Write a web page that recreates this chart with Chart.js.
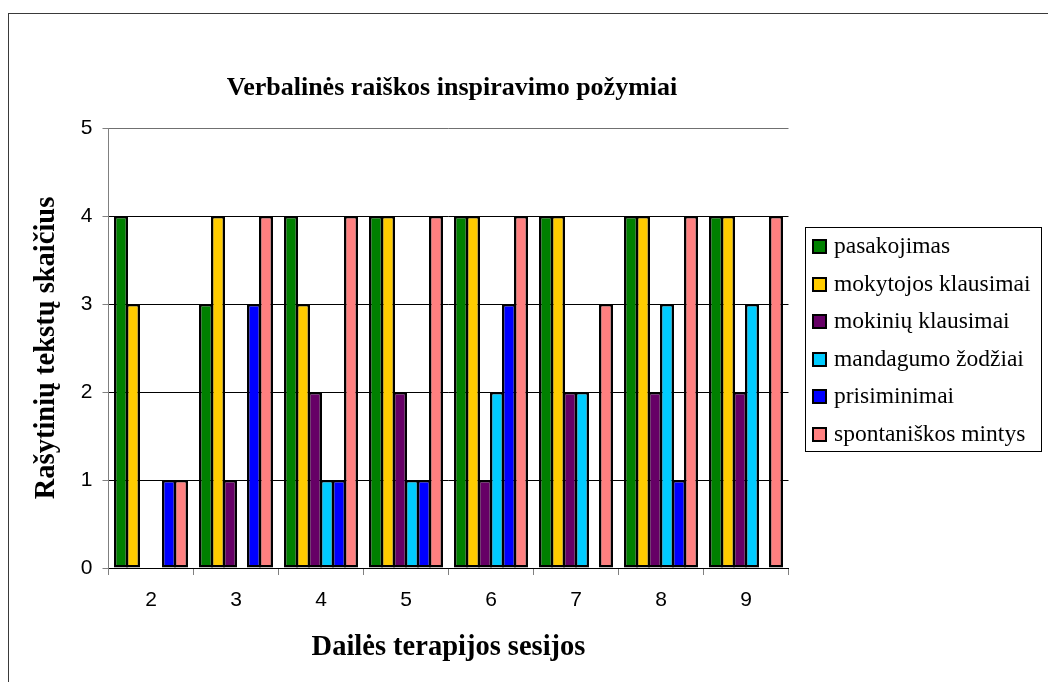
<!DOCTYPE html>
<html>
<head>
<meta charset="utf-8">
<script src="https://cdn.jsdelivr.net/npm/chart.js@4.4.1/dist/chart.umd.min.js"></script>
<style>
  html, body { margin: 0; padding: 0; background: #fff; overflow: hidden; }
  #frame { position: absolute; left: 8px; top: 13px; width: 2000px; height: 2000px;
           border-left: 1.5px solid #3a3a3a; border-top: 1.5px solid #3a3a3a; }
  #c { position: absolute; left: 0; top: 0; }
</style>
</head>
<body>
<div id="frame"></div>
<canvas id="c" width="1048" height="682"></canvas>
<script>
const chartTitle = 'Verbalinės raiškos inspiravimo požymiai';
const xTitle = 'Dailės terapijos sesijos';
const yTitle = 'Rašytinių tekstų skaičius';
const categories = ['2', '3', '4', '5', '6', '7', '8', '9'];
const seriesNames = ['pasakojimas', 'mokytojos klausimai', 'mokinių klausimai', 'mandagumo žodžiai', 'prisiminimai', 'spontaniškos mintys'];
const pasakojimas        = [4, 3, 4, 4, 4, 4, 4, 4];
const mokytojosKlausimai = [3, 4, 3, 4, 4, 4, 4, 4];
const mokiniuKlausimai   = [0, 1, 2, 2, 1, 2, 2, 2];
const mandagumoZodziai   = [0, 0, 1, 1, 2, 2, 3, 3];
const prisiminimai       = [1, 3, 1, 1, 3, 0, 1, 0];
const spontaniskosMintys = [1, 4, 4, 4, 4, 3, 4, 4];
const yTickValues = [0, 1, 2, 3, 4, 5];
const seriesColors = ['#008000', '#FFCC00', '#660066', '#00CCFF', '#0000FF', '#FF8080'];

const seriesValues = [pasakojimas, mokytojosKlausimai, mokiniuKlausimai, mandagumoZodziai, prisiminimai, spontaniskosMintys];

const SERIF = "'Liberation Serif', 'Times New Roman', serif";
const SANS = "'Liberation Sans', Arial, sans-serif";

const decorPlugin = {
  id: 'decor',
  afterDraw(chart) {
    const ctx = chart.ctx;
    ctx.save();
    // chart title
    ctx.fillStyle = '#000';
    ctx.font = 'bold 26px ' + SERIF;
    ctx.textAlign = 'center';
    ctx.textBaseline = 'alphabetic';
    ctx.fillText(chartTitle, 452, 95);
    // legend box
    const lx = 805, ly = 227, lw = 236, lh = 224;
    ctx.strokeStyle = '#000';
    ctx.lineWidth = 1;
    ctx.strokeRect(lx + 0.5, ly + 0.5, lw, lh);
    ctx.font = '23.5px ' + SERIF;
    ctx.textAlign = 'left';
    ctx.textBaseline = 'middle';
    chart.data.datasets.forEach((ds, i) => {
      const cy = Math.round(246 + i * 37.5);
      ctx.fillStyle = '#000';
      ctx.fillRect(812, cy - 7, 15, 15);
      ctx.fillStyle = ds.backgroundColor;
      ctx.fillRect(814, cy - 5, 11, 11);
      ctx.fillStyle = '#000';
      ctx.fillText(ds.label, 834, cy + 1);
    });
    ctx.restore();
  }
};

new Chart(document.getElementById('c'), {
  type: 'bar',
  data: {
    labels: categories,
    datasets: seriesNames.map((name, i) => ({
      label: name,
      data: seriesValues[i],
      backgroundColor: seriesColors[i],
      borderColor: '#000',
      borderWidth: 2.5,
      borderSkipped: false,
      inflateAmount: 0,
      categoryPercentage: 72 / 85,
      barPercentage: 14 / 12
    }))
  },
  options: {
    responsive: false,
    animation: false,
    layout: { padding: { left: 0, right: 259.5, top: 128, bottom: 0 } },
    plugins: {
      legend: { display: false },
      title: { display: false },
      tooltip: { enabled: false }
    },
    scales: {
      x: {
        afterFit(scale) { scale.height = 114; },
        grid: { display: true, drawOnChartArea: false, drawTicks: true, tickLength: 7, tickColor: '#808080', offset: true },
        border: { display: true, color: '#000', width: 1 },
        ticks: { color: '#000', font: { family: SANS, size: 21 }, padding: 13 },
        title: { display: true, text: xTitle, color: '#000', font: { family: SERIF, size: 28.5, weight: 'bold' }, padding: { top: 0, bottom: 17.5 } }
      },
      y: {
        min: 0, max: 5,
        afterFit(scale) { scale.width = 108.5; },
        afterBuildTicks(scale) { scale.ticks = yTickValues.map(v => ({ value: v })); },
        grid: { color: (c) => (c.tick && c.tick.value === 5) ? '#707070' : '#000', tickLength: 6, tickColor: '#808080', lineWidth: 1 },
        border: { display: true, color: '#808080', width: 1 },
        ticks: { color: '#000', font: { family: SANS, size: 21 }, padding: 10, stepSize: 1 },
        title: { display: true, text: yTitle, color: '#000', font: { family: SERIF, size: 28.5, weight: 'bold' }, padding: { top: 30, bottom: 0 } }
      }
    }
  },
  plugins: [decorPlugin]
});
</script>
</body>
</html>
